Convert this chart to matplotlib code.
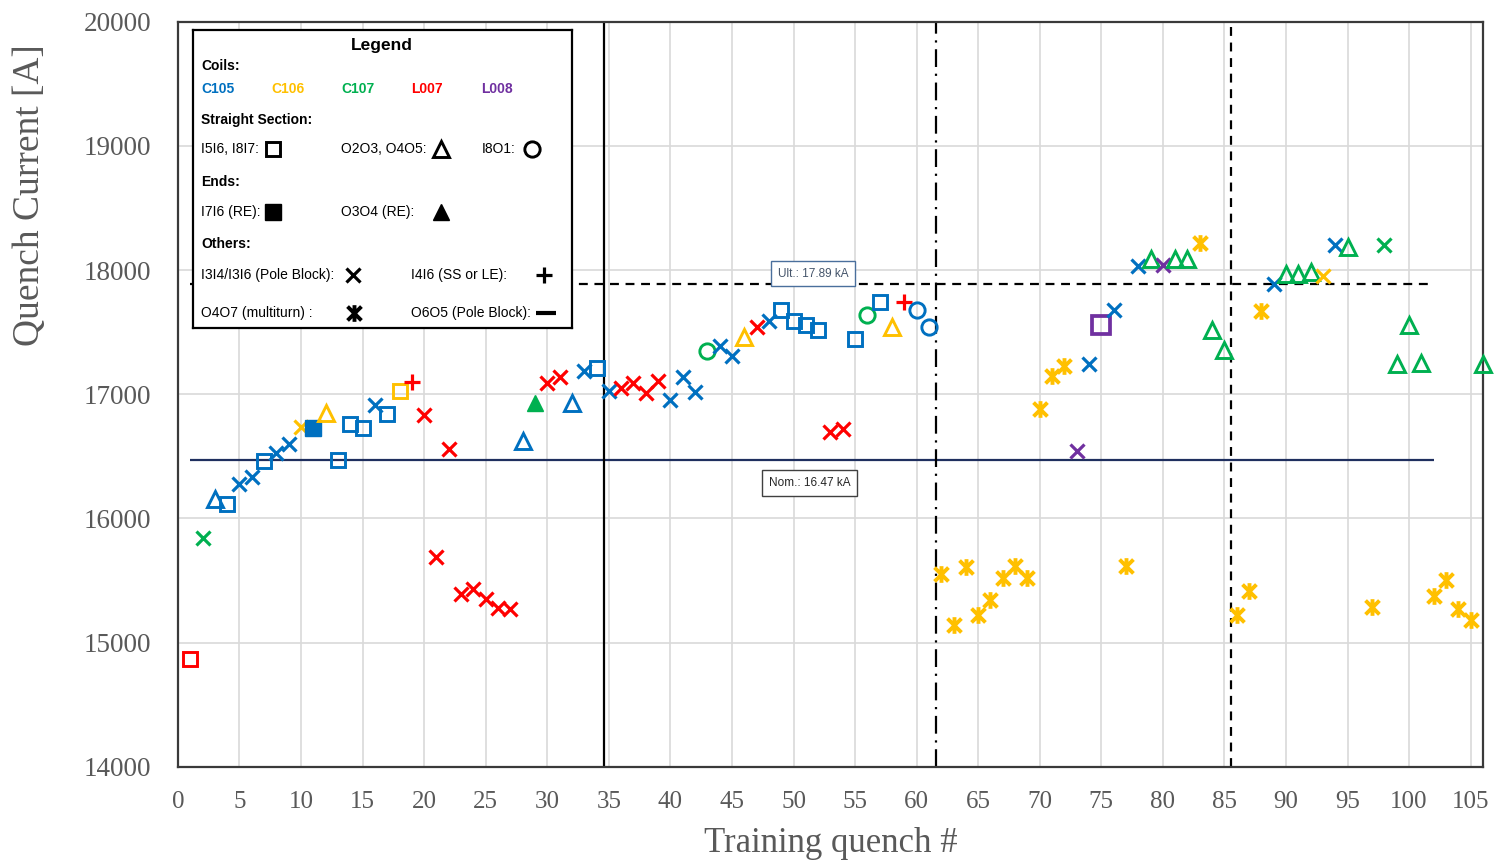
"""Training quench history: quench current vs. quench number, per coil."""
import matplotlib
matplotlib.use('Agg')
import matplotlib.pyplot as plt
from matplotlib.path import Path

# ---- data ---------------------------------------------------------------
quench = [1, 2, 3, 4, 5, 6, 7, 8, 9, 10,
          11, 12, 13, 14, 15, 16, 17, 18, 19, 20,
          21, 22, 23, 24, 25, 26, 27, 28, 29, 30,
          31, 32, 33, 34, 35, 36, 37, 38, 39, 40,
          41, 42, 43, 44, 45, 46, 47, 48, 49, 50,
          51, 52, 53, 54, 55, 56, 57, 58, 59, 60,
          61, 62, 63, 64, 65, 66, 67, 68, 69, 70,
          71, 72, 73, 74, 75, 76, 77, 78, 79, 80,
          81, 82, 83, 84, 85, 86, 87, 88, 89, 90,
          91, 92, 93, 94, 95, 97, 98, 99, 100, 101,
          102, 103, 104, 105, 106]
current = [14870, 15840, 16160, 16120, 16280, 16330, 16460, 16530, 16600, 16740,
           16730, 16850, 16467, 16760, 16730, 16910, 16840, 17030, 17100, 16830,
           15690, 16560, 15390, 15430, 15350, 15280, 15270, 16620, 16930, 17090,
           17140, 16930, 17190, 17210, 17030, 17050, 17090, 17010, 17110, 16955,
           17140, 17015, 17350, 17390, 17310, 17460, 17545, 17590, 17680, 17590,
           17555, 17520, 16695, 16720, 17445, 17640, 17745, 17545, 17740, 17675,
           17545, 15550, 15140, 15610, 15225, 15340, 15520, 15615, 15520, 16880,
           17150, 17225, 16545, 17245, 17560, 17680, 15615, 18030, 18090, 18040,
           18090, 18090, 18220, 17515, 17360, 15220, 15420, 17670, 17885, 17970,
           17970, 17980, 17953, 18200, 18185, 15290, 18200, 17240, 17560, 17250,
           15380, 15505, 15270, 15180, 17245]
coil = ['L007', 'C107', 'C105', 'C105', 'C105', 'C105', 'C105', 'C105', 'C105', 'C106',
        'C105', 'C106', 'C105', 'C105', 'C105', 'C105', 'C105', 'C106', 'L007', 'L007',
        'L007', 'L007', 'L007', 'L007', 'L007', 'L007', 'L007', 'C105', 'C107', 'L007',
        'L007', 'C105', 'C105', 'C105', 'C105', 'L007', 'L007', 'L007', 'L007', 'C105',
        'C105', 'C105', 'C107', 'C105', 'C105', 'C106', 'L007', 'C105', 'C105', 'C105',
        'C105', 'C105', 'L007', 'L007', 'C105', 'C107', 'C105', 'C106', 'L007', 'C105',
        'C105', 'C106', 'C106', 'C106', 'C106', 'C106', 'C106', 'C106', 'C106', 'C106',
        'C106', 'C106', 'L008', 'C105', 'L008', 'C105', 'C106', 'C105', 'C107', 'L008',
        'C107', 'C107', 'C106', 'C107', 'C107', 'C106', 'C106', 'C106', 'C105', 'C107',
        'C107', 'C107', 'C106', 'C105', 'C107', 'C106', 'C107', 'C107', 'C107', 'C107',
        'C106', 'C106', 'C106', 'C106', 'C107']
# location codes: sq/tri/circ = straight section, end_sq/end_tri = ends,
# pb = pole block, plus = I4I6, ast = multiturn
location = ['sq', 'pb', 'tri', 'sq', 'pb', 'pb', 'sq', 'pb', 'pb', 'pb',
            'end_sq', 'tri', 'sq', 'sq', 'sq', 'pb', 'sq', 'sq', 'plus', 'pb',
            'pb', 'pb', 'pb', 'pb', 'pb', 'pb', 'pb', 'tri', 'end_tri', 'pb',
            'pb', 'tri', 'pb', 'sq', 'pb', 'pb', 'pb', 'pb', 'pb', 'pb',
            'pb', 'pb', 'circ', 'pb', 'pb', 'tri', 'pb', 'pb', 'sq', 'sq',
            'sq', 'sq', 'pb', 'pb', 'sq', 'circ', 'sq', 'tri', 'plus', 'circ',
            'circ', 'ast', 'ast', 'ast', 'ast', 'ast', 'ast', 'ast', 'ast', 'ast',
            'ast', 'ast', 'pb', 'pb', 'sq_big', 'pb', 'ast', 'pb', 'tri', 'pb',
            'tri', 'tri', 'ast', 'tri', 'tri', 'ast', 'ast', 'ast', 'pb', 'tri',
            'tri', 'tri', 'pb', 'pb', 'tri', 'ast', 'pb', 'tri', 'tri', 'tri',
            'ast', 'ast', 'ast', 'ast', 'tri']

NOMINAL = 16470
ULTIMATE = 17890
separators = [34.6, 61.6, 85.5]

COIL_COL = {'C105': '#0070C0', 'C106': '#FFC000', 'C107': '#00B050',
            'L007': '#FF0000', 'L008': '#7030A0'}
GREY = '#595959'

# X + vertical bar, like the spreadsheet "star" marker
AST = Path([(-1, -1), (1, 1), (-1, 1), (1, -1), (0, -1.2), (0, 1.2)],
           [Path.MOVETO, Path.LINETO, Path.MOVETO, Path.LINETO,
            Path.MOVETO, Path.LINETO])

STYLE = {
    'sq':      dict(marker='s', ms=10, mew=2.1, fill=False),
    'sq_big':  dict(marker='s', ms=12.5, mew=2.7, fill=False),
    'tri':     dict(marker='^', ms=11, mew=2.1, fill=False),
    'circ':    dict(marker='o', ms=11, mew=2.1, fill=False),
    'end_sq':  dict(marker='s', ms=11, mew=1.0, fill=True),
    'end_tri': dict(marker='^', ms=12, mew=1.0, fill=True),
    'pb':      dict(marker='x', ms=10, mew=2.3, fill=False),
    'plus':    dict(marker='+', ms=12, mew=2.3, fill=False),
    'ast':     dict(marker=AST, ms=12, mew=2.8, fill=False),
}


def draw_marker(ax, x, y, kind, col, **kw):
    st = STYLE[kind]
    ax.plot([x], [y], linestyle='none', marker=st['marker'], ms=st['ms'],
            mew=st['mew'], mec=col, mfc=col if st['fill'] else 'none', **kw)


fig = plt.figure(figsize=(14.99, 8.64), dpi=100)
ax = fig.add_axes([0.1187, 0.1123, 0.8706, 0.8628])

ax.set_xlim(0, 106)
ax.set_ylim(14000, 20000)
ax.set_xticks(range(0, 106, 5))
ax.set_yticks(range(14000, 20001, 1000))
ax.grid(color='#d9d9d9', linewidth=1.2)
ax.set_axisbelow(True)
ax.tick_params(length=0, labelcolor=GREY)
ax.tick_params(axis='y', pad=19, labelsize=19.5)
ax.tick_params(axis='x', pad=17, labelsize=18)
for lab in ax.get_xticklabels() + ax.get_yticklabels():
    lab.set_fontfamily('Liberation Serif')
for sp in ax.spines.values():
    sp.set_color('#3a3a3a')
    sp.set_linewidth(1.6)

# reference lines
ax.hlines(NOMINAL, 1, 102, color='#1f2f5f', linewidth=1.6, zorder=2)
ax.hlines(ULTIMATE, 1, 102, color='black', linewidth=1.6,
          linestyles=(0, (4, 3)), zorder=2)
ax.axvline(separators[0], color='black', linewidth=1.6, zorder=2)
ax.axvline(separators[1], color='black', linewidth=1.6,
           linestyle=(0, (8, 3, 1, 3)), zorder=2)
ax.axvline(separators[2], color='black', linewidth=1.6,
           linestyle=(0, (4, 3)), zorder=2)

ax.text(51.6, 17970, f'Ult.: {ULTIMATE / 1000:.2f} kA', fontsize=8.5,
        color='#44546a', ha='center', va='center', family='Liberation Sans',
        bbox=dict(boxstyle='square,pad=0.55', fc='white', ec='#4a6f9c', lw=1.0),
        zorder=4)
ax.text(51.3, 16287, f'Nom.: {NOMINAL / 1000:.2f} kA', fontsize=8.5,
        color='#262626', ha='center', va='center', family='Liberation Sans',
        bbox=dict(boxstyle='square,pad=0.6', fc='white', ec='#404040', lw=1.0),
        zorder=4)

for q, c, co, loc in zip(quench, current, coil, location):
    draw_marker(ax, q, c, loc, COIL_COL[co], zorder=5, clip_on=False)

fig.text(30 / 1499, 1 - 195 / 864, 'Quench Current [A]', rotation=90,
         fontsize=27, color=GREY, family='Liberation Serif',
         ha='center', va='center')
fig.text(831 / 1499, 1 - 843 / 864, 'Training quench #', fontsize=25,
         color=GREY, family='Liberation Serif', ha='center', va='center')

# ---- hand-built legend box (pixel-like local coords) --------------------
lax = fig.add_axes([193 / 1499, 1 - 328 / 864, 379 / 1499, 298 / 864])
lax.set_xlim(0, 379)
lax.set_ylim(298, 0)
lax.set_xticks([])
lax.set_yticks([])
for sp in lax.spines.values():
    sp.set_color('black')
    sp.set_linewidth(1.6)
lax.set_zorder(10)

LF = dict(family='Liberation Sans', fontsize=10, va='center', ha='left')
lax.text(189, 15, 'Legend', family='Liberation Sans', fontsize=12.5,
         weight='bold', ha='center', va='center')
lax.text(8, 36, 'Coils:', weight='bold', **LF)
for i, name in enumerate(['C105', 'C106', 'C107', 'L007', 'L008']):
    lax.text(8 + 70 * i, 59, name, color=COIL_COL[name], weight='bold', **LF)
lax.text(8, 90, 'Straight Section:', weight='bold', **LF)
lax.text(8, 119, 'I5I6, I8I7:', **LF)
lax.text(148, 119, 'O2O3, O4O5:', **LF)
lax.text(289, 119, 'I8O1:', **LF)
lax.text(8, 152, 'Ends:', weight='bold', **LF)
lax.text(8, 182, 'I7I6 (RE):', **LF)
lax.text(148, 182, 'O3O4 (RE):', **LF)
lax.text(8, 214, 'Others:', weight='bold', **LF)
lax.text(8, 245, 'I3I4/I3I6 (Pole Block):', **LF)
lax.text(218, 245, 'I4I6 (SS or LE):', **LF)
lax.text(8, 283, 'O4O7 (multiturn) :', **LF)
lax.text(218, 283, 'O6O5 (Pole Block):', **LF)

for (lx, ly, kind) in [(80, 119, 'sq'), (248, 119, 'tri'), (339, 119, 'circ'),
                       (80, 182, 'end_sq'), (248, 182, 'end_tri'),
                       (160, 245, 'pb'), (351, 245, 'plus'),
                       (161, 283, 'ast')]:
    draw_marker(lax, lx, ly, kind, 'black')
lax.plot([353], [283], linestyle='none', marker='_', ms=15, mew=3,
         color='black')

fig.savefig('out.png', dpi=100, facecolor='white')
